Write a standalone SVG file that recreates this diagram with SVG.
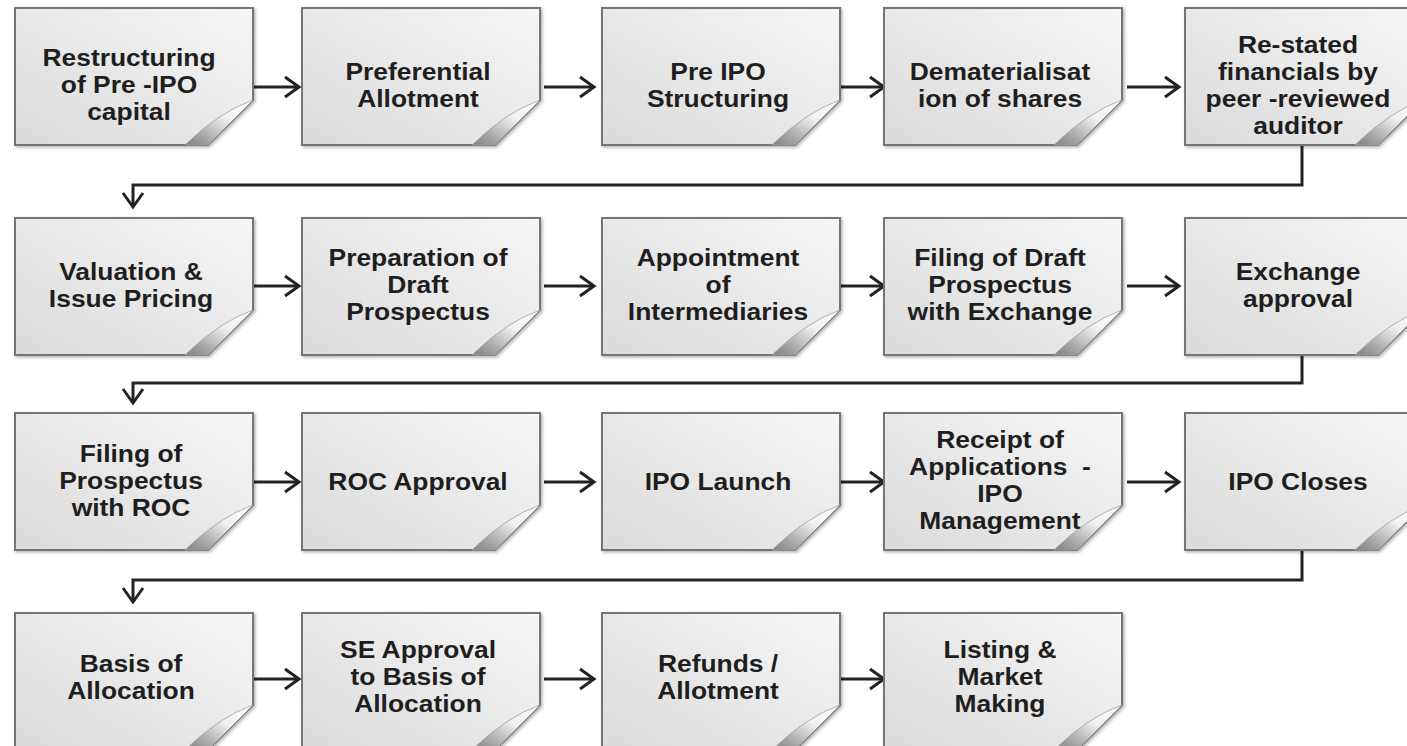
<svg xmlns="http://www.w3.org/2000/svg" xmlns:xlink="http://www.w3.org/1999/xlink" width="1407" height="746" viewBox="0 0 1407 746">
  <style>
    .page { fill: url(#pageFill); stroke: #757575; stroke-width: 2; filter: url(#soft); }
    .flap { fill: url(#flapFill); stroke: #a0a0a0; stroke-width: 0.8; }
    .lbl { font-family: "Liberation Sans", Arial, sans-serif; font-weight: bold; font-size: 24px; fill: #1e1e1e; text-anchor: middle; }
    .link { fill: none; stroke: #262222; stroke-width: 3; }
  </style>
  <defs>
    <linearGradient id="pageFill" x1="0" y1="1" x2="1" y2="0">
      <stop offset="0" stop-color="#dadada"/>
      <stop offset="0.55" stop-color="#eaeaea"/>
      <stop offset="1" stop-color="#f6f6f6"/>
    </linearGradient>
    <linearGradient id="flapFill" x1="1" y1="0" x2="0" y2="1">
      <stop offset="0" stop-color="#ffffff"/>
      <stop offset="0.4" stop-color="#f0f0f0"/>
      <stop offset="0.75" stop-color="#aaaaaa"/>
      <stop offset="1" stop-color="#808080"/>
    </linearGradient>
    <filter id="soft" x="-5%" y="-5%" width="112%" height="115%">
      <feDropShadow dx="1.5" dy="1.5" stdDeviation="1.5" flood-color="#000" flood-opacity="0.3"/>
    </filter>
    <marker id="head" markerUnits="userSpaceOnUse" markerWidth="24" markerHeight="28" viewBox="-19 -14 24 28" refX="0" refY="0" orient="auto">
      <path d="M-14,-10 L0,0 L-14,10" fill="none" stroke="#262222" stroke-width="3"/>
    </marker>
    <!-- sheet with a curled lower-right corner -->
    <g id="card">
      <path class="page" d="M0,0 H238 V92 L193,137 H0 Z"/>
      <path class="flap" d="M238,92 Q204,104 170,137 L193,137 Z"/>
    </g>
  </defs>

  <rect width="1407" height="746" fill="#ffffff"/>

  <!-- connectors -->
  <g id="connectors">
    <line class="link" x1="253" y1="87" x2="299" y2="87" marker-end="url(#head)"/>
    <line class="link" x1="544" y1="87" x2="594" y2="87" marker-end="url(#head)"/>
    <line class="link" x1="841" y1="87" x2="884" y2="87" marker-end="url(#head)"/>
    <line class="link" x1="1127" y1="87" x2="1179" y2="87" marker-end="url(#head)"/>
    <polyline class="link" points="1302,145 1302,185 133,185 133,207" marker-end="url(#head)"/>

    <line class="link" x1="253" y1="286" x2="299" y2="286" marker-end="url(#head)"/>
    <line class="link" x1="544" y1="286" x2="594" y2="286" marker-end="url(#head)"/>
    <line class="link" x1="841" y1="286" x2="884" y2="286" marker-end="url(#head)"/>
    <line class="link" x1="1127" y1="286" x2="1179" y2="286" marker-end="url(#head)"/>
    <polyline class="link" points="1302,355 1302,383 133,383 133,403" marker-end="url(#head)"/>

    <line class="link" x1="253" y1="482" x2="299" y2="482" marker-end="url(#head)"/>
    <line class="link" x1="544" y1="482" x2="594" y2="482" marker-end="url(#head)"/>
    <line class="link" x1="841" y1="482" x2="884" y2="482" marker-end="url(#head)"/>
    <line class="link" x1="1127" y1="482" x2="1179" y2="482" marker-end="url(#head)"/>
    <polyline class="link" points="1302,550 1302,580 133,580 133,602" marker-end="url(#head)"/>

    <line class="link" x1="253" y1="679" x2="299" y2="679" marker-end="url(#head)"/>
    <line class="link" x1="544" y1="679" x2="594" y2="679" marker-end="url(#head)"/>
    <line class="link" x1="841" y1="679" x2="884" y2="679" marker-end="url(#head)"/>
  </g>

  <!-- row 1 -->
  <g id="n1"><use href="#card" x="15" y="8"/>
    <text class="lbl" transform="translate(129 0) scale(1.1 1)"><tspan x="0" y="66">Restructuring</tspan><tspan x="0" y="93">of Pre -IPO</tspan><tspan x="0" y="120">capital</tspan></text></g>
  <g id="n2"><use href="#card" x="302" y="8"/>
    <text class="lbl" transform="translate(418 0) scale(1.1 1)"><tspan x="0" y="80">Preferential</tspan><tspan x="0" y="107">Allotment</tspan></text></g>
  <g id="n3"><use href="#card" x="602" y="8"/>
    <text class="lbl" transform="translate(718 0) scale(1.1 1)"><tspan x="0" y="80">Pre IPO</tspan><tspan x="0" y="107">Structuring</tspan></text></g>
  <g id="n4"><use href="#card" x="884" y="8"/>
    <text class="lbl" transform="translate(1000 0) scale(1.1 1)"><tspan x="0" y="80">Dematerialisat</tspan><tspan x="0" y="107">ion of shares</tspan></text></g>
  <g id="n5"><use href="#card" x="1185" y="8"/>
    <text class="lbl" transform="translate(1298 0) scale(1.1 1)"><tspan x="0" y="53">Re-stated</tspan><tspan x="0" y="80">financials by</tspan><tspan x="0" y="107">peer -reviewed</tspan><tspan x="0" y="134">auditor</tspan></text></g>

  <!-- row 2 -->
  <g id="n6"><use href="#card" x="15" y="218"/>
    <text class="lbl" transform="translate(131 0) scale(1.1 1)"><tspan x="0" y="280">Valuation &amp;</tspan><tspan x="0" y="307">Issue Pricing</tspan></text></g>
  <g id="n7"><use href="#card" x="302" y="218"/>
    <text class="lbl" transform="translate(418 0) scale(1.1 1)"><tspan x="0" y="266">Preparation of</tspan><tspan x="0" y="293">Draft</tspan><tspan x="0" y="320">Prospectus</tspan></text></g>
  <g id="n8"><use href="#card" x="602" y="218"/>
    <text class="lbl" transform="translate(718 0) scale(1.1 1)"><tspan x="0" y="266">Appointment</tspan><tspan x="0" y="293">of</tspan><tspan x="0" y="320">Intermediaries</tspan></text></g>
  <g id="n9"><use href="#card" x="884" y="218"/>
    <text class="lbl" transform="translate(1000 0) scale(1.1 1)"><tspan x="0" y="266">Filing of Draft</tspan><tspan x="0" y="293">Prospectus</tspan><tspan x="0" y="320">with Exchange</tspan></text></g>
  <g id="n10"><use href="#card" x="1185" y="218"/>
    <text class="lbl" transform="translate(1298 0) scale(1.1 1)"><tspan x="0" y="280">Exchange</tspan><tspan x="0" y="307">approval</tspan></text></g>

  <!-- row 3 -->
  <g id="n11"><use href="#card" x="15" y="413"/>
    <text class="lbl" transform="translate(131 0) scale(1.1 1)"><tspan x="0" y="462">Filing of</tspan><tspan x="0" y="489">Prospectus</tspan><tspan x="0" y="516">with ROC</tspan></text></g>
  <g id="n12"><use href="#card" x="302" y="413"/>
    <text class="lbl" transform="translate(418 0) scale(1.1 1)"><tspan x="0" y="490">ROC Approval</tspan></text></g>
  <g id="n13"><use href="#card" x="602" y="413"/>
    <text class="lbl" transform="translate(718 0) scale(1.1 1)"><tspan x="0" y="490">IPO Launch</tspan></text></g>
  <g id="n14"><use href="#card" x="884" y="413"/>
    <text class="lbl" transform="translate(1000 0) scale(1.1 1)"><tspan x="0" y="448">Receipt of</tspan><tspan x="0" y="475">Applications  &#160;-</tspan><tspan x="0" y="502">IPO</tspan><tspan x="0" y="529">Management</tspan></text></g>
  <g id="n15"><use href="#card" x="1185" y="413"/>
    <text class="lbl" transform="translate(1298 0) scale(1.1 1)"><tspan x="0" y="490">IPO Closes</tspan></text></g>

  <!-- row 4 -->
  <g id="n16"><use href="#card" x="15" y="613"/>
    <text class="lbl" transform="translate(131 0) scale(1.1 1)"><tspan x="0" y="672">Basis of</tspan><tspan x="0" y="699">Allocation</tspan></text></g>
  <g id="n17"><use href="#card" x="302" y="613"/>
    <text class="lbl" transform="translate(418 0) scale(1.1 1)"><tspan x="0" y="658">SE Approval</tspan><tspan x="0" y="685">to Basis of</tspan><tspan x="0" y="712">Allocation</tspan></text></g>
  <g id="n18"><use href="#card" x="602" y="613"/>
    <text class="lbl" transform="translate(718 0) scale(1.1 1)"><tspan x="0" y="672">Refunds /</tspan><tspan x="0" y="699">Allotment</tspan></text></g>
  <g id="n19"><use href="#card" x="884" y="613"/>
    <text class="lbl" transform="translate(1000 0) scale(1.1 1)"><tspan x="0" y="658">Listing &amp;</tspan><tspan x="0" y="685">Market</tspan><tspan x="0" y="712">Making</tspan></text></g>
</svg>
